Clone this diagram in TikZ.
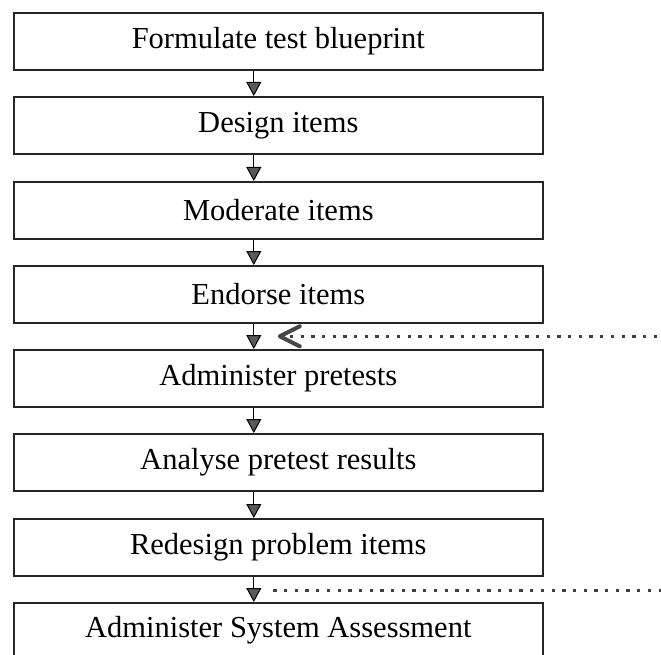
\documentclass[tikz,border=0pt]{standalone}
\usepackage{fontspec}
\setmainfont{Liberation Serif}
\usetikzlibrary{arrows.meta,calc}
\begin{document}
\begin{tikzpicture}[x=1pt,y=-1pt,
  stepbox/.style={draw=black!85, line width=1.6pt, minimum width=529pt, minimum height=57pt,
    inner sep=0pt, anchor=north west, font=\fontsize{30.5}{36}\selectfont},
  flow/.style={draw=black, line width=1.2pt,
    -{Triangle[width=15pt,length=14pt,fill=black!65,line width=1pt]}},
  dotline/.style={draw=black!75, line width=3.3pt, dash pattern=on 3.3pt off 7.4pt},
  chev/.style={draw=black!72, line width=4pt, line cap=round, line join=round}]
\useasboundingbox (0,0) rectangle (661,655);
\clip (0,0) rectangle (661,655);
\node[stepbox] (b1) at (13,12)  {Formulate test blueprint};
\node[stepbox] (b2) at (13,96)  {Design items};
\node[stepbox] (b3) at (13,181) {Moderate items};
\node[stepbox] (b4) at (13,265) {Endorse items};
\node[stepbox] (b5) at (13,349) {Administer pretests};
\node[stepbox] (b6) at (13,433) {Analyse pretest results};
\node[stepbox, minimum height=70pt] (b7x) at (13,602) {};
\node[anchor=center, font=\fontsize{30.5}{36}\selectfont] (b8) at ($(b7x.north)+(0,28.5)$) {Administer System Assessment};
\node[stepbox] (b7) at (13,518) {Redesign problem items};
\foreach \a/\b in {b1/b2,b2/b3,b3/b4,b4/b5,b5/b6,b6/b7,b7/b7x}
  \draw[flow] ($(\a.south)+(-24.5,0)$) -- ($(\b.north)+(-24.5,0)$);
% feedback lines
\coordinate (c1) at ($(b4.south)!0.5!(b5.north)+(1.5,0)$);
\coordinate (e1) at (661,0 |- c1);
\draw[dotline] ($(c1)+(10,0)$) -- (e1);
\draw[chev] ($(c1)+(20,-10)$) -- (c1) -- ($(c1)+(20,10)$);
\coordinate (c2) at ($(b7.south)!0.55!(b7x.north)+(-5,0)$);
\coordinate (e2) at (661,0 |- c2);
\draw[dotline] (c2) -- (e2);
\end{tikzpicture}
\end{document}
